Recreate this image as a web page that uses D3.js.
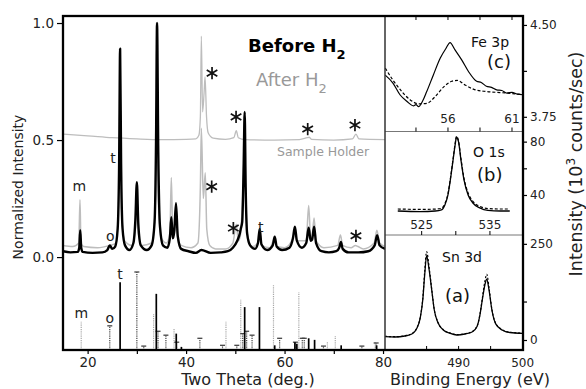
<!DOCTYPE html>
<html>
<head>
<meta charset="utf-8">
<script src="https://cdn.jsdelivr.net/npm/d3@7"></script>
<style>
  body { margin: 0; background: #fff; }
  svg { display: block; font-family: "DejaVu Sans", Verdana, sans-serif; }
</style>
</head>
<body>
<svg id="chart" width="586" height="389"></svg>
<script>
// XRD patterns, [two theta, normalized intensity]
const BEFORE_H2 = [
  [15, 0.025], [16.5, 0.02], [18, 0.022], [18.3, 0.04], [18.5, 0.115], [18.7, 0.04], [19, 0.022],
  [21, 0.018], [23, 0.02], [24, 0.03], [24.5, 0.05], [25, 0.035], [25.6, 0.045], [26.1, 0.12],
  [26.4, 0.4], [26.6, 0.89], [26.8, 0.4], [27.1, 0.12], [27.6, 0.05], [28.5, 0.03], [29.3, 0.06],
  [29.7, 0.16], [30, 0.32], [30.3, 0.14], [30.8, 0.05], [32, 0.03], [33, 0.05], [33.6, 0.15],
  [33.9, 0.5], [34.1, 1.0], [34.35, 0.45], [34.7, 0.13], [35.3, 0.05], [36.2, 0.04], [36.7, 0.08],
  [37, 0.17], [37.3, 0.08], [37.6, 0.11], [37.95, 0.23], [38.3, 0.09], [39, 0.035], [40.5, 0.025],
  [42, 0.018], [43.1, 0.03], [45, 0.018], [47, 0.02], [48.5, 0.025], [49.5, 0.04], [50.4, 0.07],
  [50.9, 0.1], [51.1, 0.12], [51.4, 0.15], [51.7, 0.4], [51.9, 0.62], [52.1, 0.3], [52.4, 0.1],
  [53, 0.05], [54, 0.035], [54.6, 0.06], [54.95, 0.12], [55.3, 0.055], [56.5, 0.03], [57.6, 0.05],
  [58, 0.087], [58.4, 0.045], [59.5, 0.03], [61, 0.04], [61.7, 0.08], [62.1, 0.13], [62.5, 0.07],
  [63.5, 0.04], [64.4, 0.06], [64.9, 0.125], [65.3, 0.07], [65.6, 0.075], [66, 0.13], [66.4, 0.06],
  [67.5, 0.025], [69, 0.02], [70.5, 0.025], [71.1, 0.04], [71.45, 0.065], [71.8, 0.035], [73, 0.02],
  [75, 0.02], [77, 0.025], [78.3, 0.05], [78.8, 0.094], [79.3, 0.05], [80.4, 0.035]
];
const AFTER_H2 = [
  [15, 0.05], [17, 0.045], [18.2, 0.06], [18.45, 0.245], [18.65, 0.06], [19.2, 0.045], [22, 0.04],
  [24.5, 0.05], [25.8, 0.06], [26.3, 0.25], [26.6, 0.6], [26.9, 0.2], [27.5, 0.07], [29, 0.05],
  [29.7, 0.12], [30, 0.22], [30.3, 0.1], [31, 0.05], [33, 0.06], [33.8, 0.25], [34.1, 0.6],
  [34.4, 0.22], [35, 0.08], [36, 0.06], [36.7, 0.1], [37, 0.34], [37.3, 0.1], [37.7, 0.12],
  [38, 0.2], [38.3, 0.09], [39, 0.05], [41, 0.04], [42.4, 0.06], [42.9, 0.3], [43.1, 0.55],
  [43.5, 0.25], [43.9, 0.36], [44.2, 0.12], [44.8, 0.05], [46, 0.035], [48, 0.035], [49.5, 0.06],
  [50.2, 0.14], [50.6, 0.07], [51, 0.09], [51.6, 0.3], [51.9, 0.45], [52.2, 0.2], [52.6, 0.08],
  [53.5, 0.045], [54.6, 0.06], [54.95, 0.1], [55.3, 0.05], [57, 0.04], [58, 0.08], [58.4, 0.045],
  [60, 0.04], [61.7, 0.08], [62.1, 0.12], [62.5, 0.07], [64.4, 0.07], [64.9, 0.22], [65.3, 0.08],
  [65.6, 0.09], [66, 0.167], [66.4, 0.07], [68, 0.04], [70.8, 0.05], [71.35, 0.094], [71.8, 0.05],
  [73.5, 0.04], [74.4, 0.05], [74.9, 0.045], [76, 0.035], [78.2, 0.06], [78.75, 0.115], [79.3, 0.06],
  [80.4, 0.045]
];
const SAMPLE_HOLDER = [
  [15, 0.525], [20, 0.518], [25, 0.51], [30, 0.505], [35, 0.502], [40, 0.503], [42, 0.505],
  [42.6, 0.52], [42.9, 0.6], [43.1, 0.944], [43.35, 0.62], [43.65, 0.7], [43.85, 0.77],
  [44.15, 0.6], [44.5, 0.53], [45.5, 0.508], [48, 0.503], [49.7, 0.51], [50.2, 0.54],
  [50.6, 0.51], [52, 0.502], [58, 0.5], [63, 0.502], [64.6, 0.51], [65, 0.512], [65.5, 0.503],
  [70, 0.5], [73.8, 0.505], [74.5, 0.525], [75.1, 0.505], [80.4, 0.502]
];

// reference line patterns, [two theta, relative intensity]
const STICKS_T = [
  [26.6, 87], [33.95, 72], [38.0, 21], [39.05, 4], [51.9, 55], [54.9, 55], [58.0, 6],
  [62.1, 10], [62.5, 8], [64.9, 15], [66.1, 13], [71.5, 6], [78.7, 6]
];
const STICKS_O = [
  [24.5, 31], [30.0, 100], [31.4, 5], [34.3, 24], [35.9, 19], [38.1, 10], [42.8, 15], [47.4, 6],
  [50.3, 6], [51.5, 21], [52.3, 24], [53.4, 19], [59.0, 15], [62.2, 10], [63.6, 15], [64.0, 15],
  [67.9, 5], [75.7, 5], [78.6, 9]
];
const STICKS_M = [
  [18.7, 37], [33.4, 46], [37.55, 28], [48.1, 37], [51.1, 65], [57.75, 83], [62.9, 74],
  [68.7, 10], [70.3, 18], [78.4, 10]
];

// peaks marked as sample holder, [two theta, intensity]
const ASTERISKS = [
  [45.27, 0.786], [50.15, 0.599], [64.7, 0.547], [74.3, 0.564],
  [45.2, 0.301], [49.6, 0.124], [74.5, 0.091]
];

// XPS spectra, [binding energy, 10^3 counts/sec]
const FE3P_BEFORE = [
  [51.1, 4.09], [51.7, 4.025], [52.25, 3.93], [52.8, 3.875], [53.3, 3.84], [53.5, 3.85],
  [53.7, 3.833], [54.0, 3.875], [54.34, 3.956], [54.85, 4.09], [55.4, 4.23], [55.85, 4.31],
  [56.16, 4.356], [56.55, 4.296], [57.07, 4.215], [57.6, 4.12], [58.24, 4.04], [58.6, 4.03],
  [59.0, 4.0], [59.4, 3.99], [59.8, 3.97], [60.2, 3.965], [60.6, 3.944], [61.0, 3.95],
  [61.4, 3.935], [61.84, 3.93]
];
const FE3P_AFTER = [
  [51.1, 4.147], [51.7, 4.05], [52.4, 3.956], [53.03, 3.89], [53.7, 3.856], [54.34, 3.86],
  [55.0, 3.915], [55.63, 3.99], [56.3, 4.04], [56.73, 4.047], [57.33, 4.01], [57.98, 3.976],
  [59.0, 3.956], [60.06, 3.948], [61.0, 3.94], [61.84, 3.93]
];
const O1S_BEFORE = [
  [521.5, 28], [524.75, 27.6], [527.0, 28], [527.9, 28.8], [528.4, 32.5], [528.85, 40],
  [529.2, 51.3], [529.6, 66.3], [529.9, 77.5], [530.1, 83.3], [530.4, 79.8], [530.75, 66.3],
  [531.2, 51.3], [531.8, 40], [532.5, 34], [533.5, 30.3], [534.7, 28.4], [536.5, 28], [537.9, 28]
];
const O1S_AFTER = [
  [521.5, 29.5], [524.75, 29.2], [527.0, 29.4], [527.9, 30], [528.4, 33.5], [528.85, 41],
  [529.2, 52], [529.6, 67], [529.9, 78.5], [530.1, 84], [530.4, 80.5], [530.75, 67.5],
  [531.2, 52.5], [531.8, 41.5], [532.5, 35.2], [533.5, 31.5], [534.7, 29.8], [536.5, 29.5], [537.9, 29.5]
];
const SN3D_BEFORE = [
  [478.5, 8.6], [480.06, 7.8], [481.6, 10.4], [482.7, 15.6], [483.5, 31], [484.0, 57],
  [484.4, 104], [484.7, 169], [485.0, 219], [485.4, 182], [485.8, 130], [486.2, 78],
  [486.8, 44], [487.6, 26], [488.7, 17], [489.7, 13], [491.0, 15.6], [492.1, 20.8],
  [492.9, 36], [493.3, 62], [493.7, 104], [494.1, 143], [494.4, 158], [494.75, 130],
  [495.2, 78], [495.8, 42], [496.8, 26], [498.0, 19.5], [500.0, 17.4]
];
const SN3D_AFTER = [
  [478.5, 9.5], [480.06, 8.6], [481.6, 11.2], [482.7, 16.5], [483.5, 32], [484.0, 59],
  [484.4, 108], [484.7, 178], [485.0, 230], [485.4, 188], [485.8, 132], [486.2, 79],
  [486.8, 45], [487.6, 27], [488.7, 18], [489.7, 14], [491.0, 16.5], [492.1, 21.5],
  [492.9, 37], [493.3, 64], [493.7, 108], [494.1, 152], [494.4, 171], [494.75, 136],
  [495.2, 80], [495.8, 43], [496.8, 27], [498.0, 20.2], [500.0, 18]
];

const MAIN_X_TICKS = [20, 30, 40, 50, 60, 70, 80];
const MAIN_Y_TICKS = [0, 0.5, 1.0];
const FE_X_TICKS = [53.5, 56, 58.5, 61];
const FE_X_LABELS = [56, 61];
const FE_Y_TICKS = [3.75, 4.125, 4.5];
const FE_Y_LABELS = [3.75, 4.5];
const O_X_TICKS = [525, 530, 535];
const O_X_LABELS = [525, 535];
const O_Y_TICKS = [40, 60, 80];
const O_Y_LABELS = [40, 80];
const SN_X_TICKS = [485, 490, 495, 500];
const SN_X_LABELS = [490, 500];
const SN_Y_TICKS = [0, 100, 250];
const SN_Y_LABELS = [0, 250];

const svg = d3.select("#chart");
const frameLeft = 63;
const frameMid = 385;
const frameRight = 523;
const frameTop = 16;
const frameBottom = 350;
const split1 = 131.5;
const split2 = 235;

const x = d3.scaleLinear().domain([15, 80.4]).range([frameLeft, frameMid]);
const y = d3.scaleLinear().domain([-0.397, 1.03]).range([frameBottom, frameTop]);
const stickY = d3.scaleLinear().domain([0, 100]).range([frameBottom, 272]);

const feX = d3.scaleLinear().domain([51.08, 61.86]).range([frameMid, frameRight]);
const feY = d3.scaleLinear().domain([3.63, 4.573]).range([split1, frameTop]);
const oX = d3.scaleLinear().domain([519.63, 539.84]).range([frameMid, frameRight]);
const oY = d3.scaleLinear().domain([10, 87.6]).range([split2, split1]);
const snX = d3.scaleLinear().domain([478.5, 500.06]).range([frameMid, frameRight]);
const snY = d3.scaleLinear().domain([-26, 273]).range([frameBottom, split2]);

svg.append("defs").append("clipPath").attr("id", "main-clip")
  .append("rect").attr("x", frameLeft).attr("y", frameTop).attr("width", frameMid - frameLeft).attr("height", frameBottom - frameTop);

function drawLine(data, sx, sy, color, width, dash, clip) {
  const line = d3.line().x((d) => sx(d[0])).y((d) => sy(d[1])).curve(d3.curveMonotoneX);
  const path = svg.append("path")
    .datum(data)
    .attr("d", line)
    .attr("fill", "none")
    .attr("stroke", color)
    .attr("stroke-width", width)
    .attr("stroke-linejoin", "round");
  if (dash) {
    path.attr("stroke-dasharray", dash);
  }
  if (clip) {
    path.attr("clip-path", "url(#main-clip)");
  }
}

// main XRD patterns
drawLine(SAMPLE_HOLDER, x, y, "#bdbdbd", 1.3, null, true);
drawLine(AFTER_H2, x, y, "#bdbdbd", 1.5, null, true);
drawLine(BEFORE_H2, x, y, "#000", 2.4, null, true);

// stick patterns
function drawSticks(data, color, width, dash, caps) {
  const group = svg.append("g");
  group.selectAll("line")
    .data(data)
    .join("line")
    .attr("x1", (d) => x(d[0]))
    .attr("x2", (d) => x(d[0]))
    .attr("y1", frameBottom)
    .attr("y2", (d) => stickY(d[1]))
    .attr("stroke", color)
    .attr("stroke-width", width)
    .attr("stroke-dasharray", dash);
  if (caps) {
    group.selectAll(".cap")
      .data(data)
      .join("line")
      .attr("class", "cap")
      .attr("x1", (d) => x(d[0]) - 2.5)
      .attr("x2", (d) => x(d[0]) + 2.5)
      .attr("y1", (d) => stickY(d[1]))
      .attr("y2", (d) => stickY(d[1]))
      .attr("stroke", color)
      .attr("stroke-width", 1.3);
  }
}

drawSticks(STICKS_M, "#a8a8a8", 1.2, "1.2,1", false);
drawSticks(STICKS_O, "#444", 1.2, "1.2,1", true);
drawSticks(STICKS_T, "#000", 1.7, null, false);

// phase letters
const letters = svg.append("g").attr("font-size", 14).attr("fill", "#222").attr("text-anchor", "middle");
letters.append("text").attr("x", x(25.16)).attr("y", y(0.423) + 4.5).text("t");
letters.append("text").attr("x", x(18.3)).attr("y", y(0.299) + 4).text("m");
letters.append("text").attr("x", x(24.6)).attr("y", y(0.087) + 4).text("o");
letters.append("text").attr("x", x(55.16)).attr("y", y(0.124) + 4).text("t");
letters.append("text").attr("x", x(STICKS_T[0][0])).attr("y", stickY(STICKS_T[0][1]) - 3).text("t");
letters.append("text").attr("x", x(STICKS_M[0][0])).attr("y", stickY(STICKS_M[0][1]) - 3).text("m");
letters.append("text").attr("x", x(STICKS_O[0][0])).attr("y", stickY(STICKS_O[0][1]) - 3).text("o");

// asterisks
svg.append("g").selectAll("path")
  .data(ASTERISKS)
  .join("path")
  .attr("transform", (d) => `translate(${x(d[0])},${y(d[1])})`)
  .attr("d", d3.symbol(d3.symbolAsterisk, 105))
  .attr("fill", "none")
  .attr("stroke", "#111")
  .attr("stroke-width", 1.7);

// legend texts
const before = svg.append("text").attr("x", 248).attr("y", 52).attr("font-size", 18).attr("font-weight", "bold").attr("fill", "#000");
before.append("tspan").text("Before H");
before.append("tspan").attr("dy", 7).attr("font-size", 13).text("2");
const after = svg.append("text").attr("x", 256).attr("y", 86).attr("font-size", 18).attr("fill", "#999");
after.append("tspan").text("After H");
after.append("tspan").attr("dy", 7).attr("font-size", 13).text("2");
svg.append("text").attr("x", 277).attr("y", 156).attr("font-size", 12.5).attr("fill", "#999").text("Sample Holder");

// XPS panels
drawLine(FE3P_AFTER, feX, feY, "#000", 1.2, "3,2", false);
drawLine(FE3P_BEFORE, feX, feY, "#000", 1.2, null, false);
drawLine(O1S_AFTER, oX, oY, "#000", 1.2, "3,2", false);
drawLine(O1S_BEFORE, oX, oY, "#000", 1.3, null, false);
drawLine(SN3D_AFTER, snX, snY, "#000", 1.2, "2,2", false);
drawLine(SN3D_BEFORE, snX, snY, "#000", 1.3, null, false);

const panelText = svg.append("g").attr("fill", "#111");
panelText.append("text").attr("x", 471).attr("y", 47).attr("font-size", 14).text("Fe 3p");
panelText.append("text").attr("x", 487).attr("y", 68).attr("font-size", 18).text("(c)");
panelText.append("text").attr("x", 473).attr("y", 157).attr("font-size", 14).text("O 1s");
panelText.append("text").attr("x", 477).attr("y", 181).attr("font-size", 18).text("(b)");
panelText.append("text").attr("x", 442).attr("y", 262).attr("font-size", 14).text("Sn 3d");
panelText.append("text").attr("x", 445).attr("y", 302).attr("font-size", 18).text("(a)");

// frames
svg.append("line").attr("x1", frameMid).attr("x2", frameRight).attr("y1", split1).attr("y2", split1).attr("stroke", "#777").attr("stroke-width", 1);
svg.append("line").attr("x1", frameMid).attr("x2", frameRight).attr("y1", split2).attr("y2", split2).attr("stroke", "#777").attr("stroke-width", 1);
svg.append("line").attr("x1", frameMid).attr("x2", frameMid).attr("y1", frameTop).attr("y2", frameBottom).attr("stroke", "#333").attr("stroke-width", 1.5);
svg.append("rect").attr("x", frameLeft).attr("y", frameTop).attr("width", frameRight - frameLeft).attr("height", frameBottom - frameTop)
  .attr("fill", "none").attr("stroke", "#000").attr("stroke-width", 2.3);

function styleAxis(g, size) {
  g.select(".domain").remove();
  g.selectAll(".tick line").attr("stroke", "#000").attr("stroke-width", 1.2);
  g.selectAll(".tick text").attr("font-size", size).attr("font-family", "DejaVu Sans, Verdana, sans-serif").attr("fill", "#222");
}

svg.append("g").attr("transform", `translate(0,${frameBottom})`)
  .call(d3.axisBottom(x).tickValues(MAIN_X_TICKS).tickFormat((d) => d % 20 === 0 ? d : "").tickSize(4).tickPadding(3))
  .call((g) => styleAxis(g, 13.5));
svg.append("g").attr("transform", `translate(${frameLeft},0)`)
  .call(d3.axisLeft(y).tickValues(MAIN_Y_TICKS).tickFormat(d3.format(".1f")).tickSize(6).tickPadding(3))
  .call((g) => styleAxis(g, 13.5));

function rightAxis(scale, ticks, labels, format) {
  svg.append("g").attr("transform", `translate(${frameRight},0)`)
    .call(d3.axisRight(scale).tickValues(ticks).tickFormat((d) => labels.includes(d) ? format(d) : "").tickSize(4).tickPadding(3))
    .call((g) => styleAxis(g, 12));
}
rightAxis(feY, FE_Y_TICKS, FE_Y_LABELS, d3.format(".2f"));
rightAxis(oY, O_Y_TICKS, O_Y_LABELS, d3.format("d"));
rightAxis(snY, SN_Y_TICKS, SN_Y_LABELS, d3.format("d"));

function innerTicks(scale, ticks, yPos, dir) {
  svg.append("g").selectAll("line")
    .data(ticks)
    .join("line")
    .attr("x1", (d) => scale(d))
    .attr("x2", (d) => scale(d))
    .attr("y1", yPos)
    .attr("y2", yPos + dir * 4)
    .attr("stroke", "#000")
    .attr("stroke-width", 1);
}
innerTicks(feX, FE_X_TICKS, frameTop, 1);
innerTicks(feX, FE_X_TICKS, split1, -1);
innerTicks(oX, O_X_TICKS, split2, -1);
innerTicks(snX, SN_X_TICKS, frameBottom, -1);

function innerLabels(scale, labels, yPos) {
  svg.append("g").selectAll("text")
    .data(labels)
    .join("text")
    .attr("x", (d) => scale(d))
    .attr("y", yPos)
    .attr("text-anchor", "middle")
    .attr("font-size", 12)
    .attr("fill", "#222")
    .text((d) => d);
}
innerLabels(feX, FE_X_LABELS, 123);
innerLabels(oX, O_X_LABELS, 229);
innerLabels(snX, SN_X_LABELS, 367);

// axis titles
svg.append("text").attr("x", 248).attr("y", 385).attr("text-anchor", "middle").attr("font-size", 16).attr("fill", "#222").text("Two Theta (deg.)");
svg.append("text").attr("x", 470).attr("y", 385).attr("text-anchor", "middle").attr("font-size", 16).attr("fill", "#222").text("Binding Energy (eV)");
svg.append("text").attr("transform", "translate(23,187) rotate(-90)").attr("text-anchor", "middle").attr("font-size", 14).attr("fill", "#222").text("Normalized Intensity");
const rightTitle = svg.append("text").attr("transform", "translate(582,164) rotate(-90)").attr("text-anchor", "middle").attr("font-size", 17.5).attr("fill", "#222");
rightTitle.append("tspan").text("Intensity (10");
rightTitle.append("tspan").attr("dy", -7).attr("font-size", 12).text("3");
rightTitle.append("tspan").attr("dy", 7).text(" counts/sec)");
</script>
</body>
</html>
